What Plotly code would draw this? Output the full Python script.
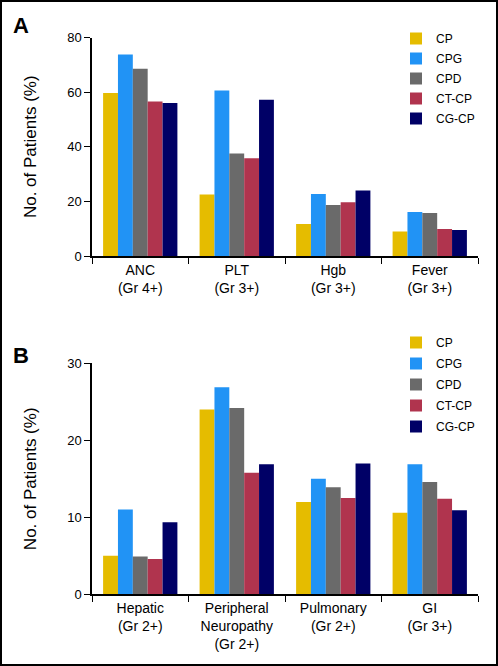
import plotly.graph_objects as go

series = ["CP", "CPG", "CPD", "CT-CP", "CG-CP"]
colors = ["#E5BC00", "#2193F5", "#6A6A6A", "#B0344E", "#000066"]

cats_a = ["ANC<br>(Gr 4+)", "PLT<br>(Gr 3+)", "Hgb<br>(Gr 3+)", "Fever<br>(Gr 3+)"]
vals_a = {
    "CP":    [59.7, 22.5, 11.7, 9.0],
    "CPG":   [73.8, 60.6, 22.7, 16.1],
    "CPD":   [68.6, 37.5, 18.7, 15.7],
    "CT-CP": [56.6, 35.8, 19.7, 9.9],
    "CG-CP": [56.0, 57.2, 24.0, 9.5],
}

cats_b = ["Hepatic<br>(Gr 2+)", "Peripheral<br>Neuropathy<br>(Gr 2+)", "Pulmonary<br>(Gr 2+)", "GI<br>(Gr 3+)"]
vals_b = {
    "CP":    [5.0, 24.0, 12.0, 10.6],
    "CPG":   [11.0, 26.9, 15.0, 16.9],
    "CPD":   [4.9, 24.2, 13.9, 14.6],
    "CT-CP": [4.6, 15.8, 12.5, 12.4],
    "CG-CP": [9.35, 16.9, 17.0, 10.9],
}

W, H = 498, 666
ML, MR = 92, 20
PW = W - ML - MR
FONT = "Liberation Sans, Arial, sans-serif"

fig = go.Figure()
for s, c in zip(series, colors):
    fig.add_trace(go.Bar(x=cats_a, y=vals_a[s], name=s, marker=dict(color=c, line=dict(width=0)),
                         xaxis="x", yaxis="y", legend="legend", legendgroup="a" + s))
for s, c in zip(series, colors):
    fig.add_trace(go.Bar(x=cats_b, y=vals_b[s], name=s, marker=dict(color=c, line=dict(width=0)),
                         xaxis="x2", yaxis="y2", legend="legend2", legendgroup="b" + s))

def py(pix):
    return 1 - pix / H

def px(pix):
    return (pix - ML) / PW

axis_common = dict(showline=True, linecolor="black", linewidth=1.5, ticks="outside",
                   tickcolor="black", ticklen=6, tickwidth=1.2, showgrid=False, zeroline=False)
xfont = dict(family=FONT, size=14, color="black")
yfont = dict(family=FONT, size=13, color="black")
title_font = dict(family=FONT, size=17, color="black")

fig.update_layout(
    width=W, height=H,
    margin=dict(l=ML, r=MR, t=0, b=0, autoexpand=False),
    paper_bgcolor="white", plot_bgcolor="white",
    barmode="group", bargap=0.23, bargroupgap=0,
    font=dict(family=FONT, color="black"),
    xaxis=dict(domain=[0, 1], anchor="y", tickson="boundaries", tickfont=xfont, **axis_common),
    yaxis=dict(domain=[py(256), py(37.5)], anchor="x", range=[0, 80], dtick=20, tickfont=yfont,
               title=dict(text="No. of Patients (%)", font=title_font, standoff=26),
               **axis_common),
    xaxis2=dict(domain=[0, 1], anchor="y2", tickson="boundaries", tickfont=xfont, **axis_common),
    yaxis2=dict(domain=[py(594.3), py(363.3)], anchor="x2", range=[0, 30], dtick=10, tickfont=yfont,
                title=dict(text="No. of Patients (%)", font=title_font, standoff=26),
                **axis_common),
    legend=dict(x=px(396), y=py(24), xanchor="left", yanchor="top", bgcolor="rgba(0,0,0,0)",
                font=dict(family=FONT, size=12), itemwidth=30, tracegroupgap=1),
    legend2=dict(x=px(396), y=py(328), xanchor="left", yanchor="top", bgcolor="rgba(0,0,0,0)",
                 font=dict(family=FONT, size=12), itemwidth=30, tracegroupgap=2),
    showlegend=True,
)

fig.add_annotation(text="<b>A</b>", xref="paper", yref="paper", x=px(11), y=py(11),
                   xanchor="left", yanchor="top", showarrow=False,
                   font=dict(family=FONT, size=22, color="black"))
fig.add_annotation(text="<b>B</b>", xref="paper", yref="paper", x=px(11), y=py(341),
                   xanchor="left", yanchor="top", showarrow=False,
                   font=dict(family=FONT, size=22, color="black"))

fig.add_shape(type="rect", xref="paper", yref="paper",
              x0=px(1), x1=px(W - 1), y0=py(H - 1), y1=py(1),
              line=dict(color="black", width=2), fillcolor="rgba(0,0,0,0)")

fig.write_html("out.html", config={"displayModeBar": False},
               post_script="document.body.style.margin='0';document.body.style.overflow='hidden';")
